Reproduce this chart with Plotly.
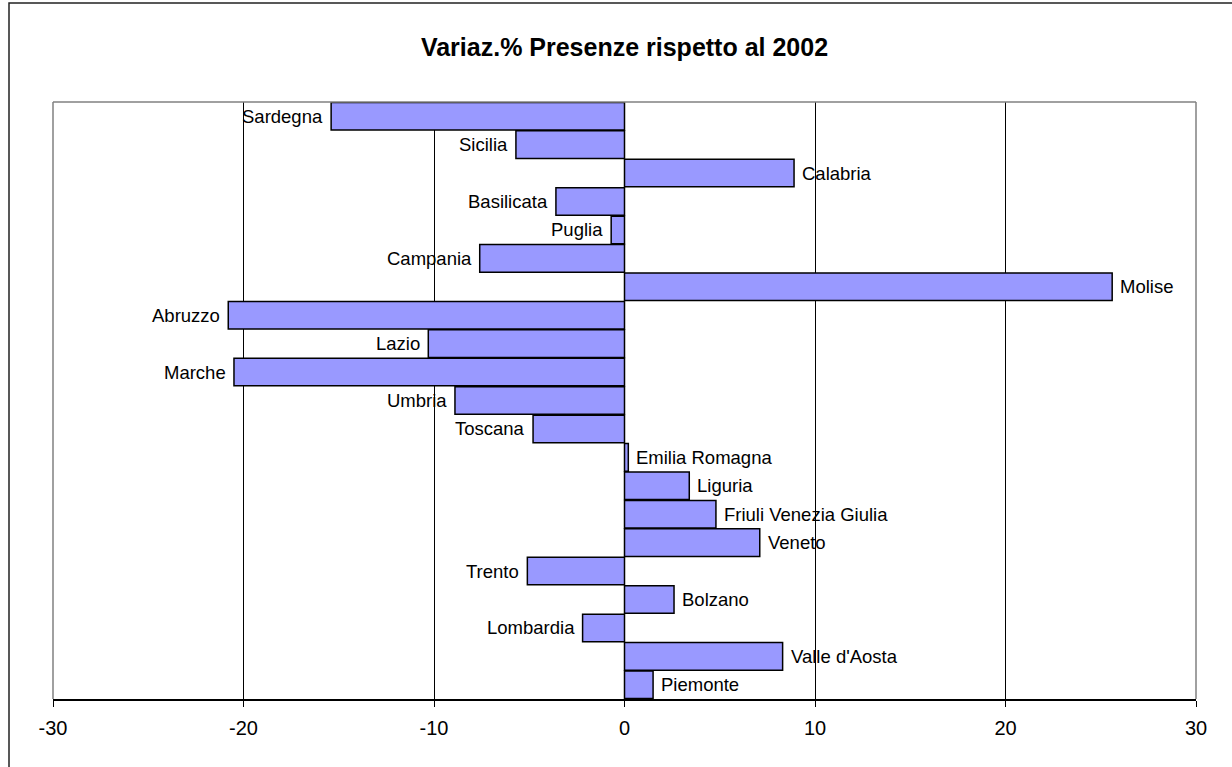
import plotly.graph_objects as go

# Categories listed bottom-to-top (as drawn on the y axis)
regions = ["Piemonte", "Valle d'Aosta", "Lombardia", "Bolzano", "Trento", "Veneto",
           "Friuli Venezia Giulia", "Liguria", "Emilia Romagna", "Toscana", "Umbria",
           "Marche", "Lazio", "Abruzzo", "Molise", "Campania", "Puglia", "Basilicata",
           "Calabria", "Sicilia", "Sardegna"]
variazione = [1.5, 8.3, -2.2, 2.6, -5.1, 7.1,
              4.8, 3.4, 0.2, -4.8, -8.9,
              -20.5, -10.3, -20.8, 25.6, -7.6, -0.7, -3.6,
              8.9, -5.7, -15.4]
x_ticks = [-30, -20, -10, 0, 10, 20, 30]
title_text = "<b>Variaz.% Presenze rispetto al 2002</b>"

FONT = "Arial, Liberation Sans, sans-serif"

fig = go.Figure()
fig.add_trace(go.Bar(
    x=variazione, y=regions, orientation="h",
    marker=dict(color="#9999FF", line=dict(color="black", width=1.5)),
    hoverinfo="x+y", showlegend=False,
))

annotations = []
for r, v in zip(regions, variazione):
    annotations.append(dict(
        x=v, y=r, xref="x", yref="y", text=r, showarrow=False,
        xanchor="left" if v >= 0 else "right", yanchor="middle",
        xshift=6 if v >= 0 else -6,
        font=dict(family=FONT, size=18.5, color="black"),
    ))

# plot-area border (gray) on left/top/right, outer chart border
shapes = [
    dict(type="line", xref="paper", yref="paper", x0=0, x1=0, y0=0, y1=1,
         line=dict(color="#808080", width=1.5), layer="above"),
    dict(type="line", xref="paper", yref="paper", x0=0, x1=1, y0=1, y1=1,
         line=dict(color="#808080", width=1.5), layer="above"),
    dict(type="line", xref="paper", yref="paper", x0=1, x1=1, y0=0, y1=1,
         line=dict(color="#808080", width=1.5), layer="above"),
    dict(type="rect", xref="paper", yref="paper",
         x0=(9 - 53) / 1143, x1=(1245 - 53) / 1143,
         y0=-(780 - 698.7) / 596.7, y1=1 + (102 - 3) / 596.7,
         line=dict(color="#222222", width=1.5), layer="above"),
]

fig.update_layout(
    width=1232, height=767,
    margin=dict(l=53, r=36, t=102, b=68, pad=0),
    paper_bgcolor="white", plot_bgcolor="white",
    bargap=0.03,
    title=dict(text=title_text, x=0.5, xref="paper", xanchor="center",
               y=1 - 47 / 767, yref="container", yanchor="middle",
               font=dict(family=FONT, size=25, color="black")),
    font=dict(family=FONT, color="black"),
    annotations=annotations,
    shapes=shapes,
    xaxis=dict(range=[-30, 30], tickvals=x_ticks, ticktext=[str(t) for t in x_ticks],
               showgrid=True, gridcolor="black", gridwidth=1,
               zeroline=True, zerolinecolor="black", zerolinewidth=1,
               showline=True, linecolor="black", linewidth=1.5,
               ticks="outside", ticklen=6, tickcolor="black", tickwidth=1,
               ticklabelstandoff=4,
               tickfont=dict(family=FONT, size=20, color="black")),
    yaxis=dict(categoryorder="array", categoryarray=regions,
               showticklabels=False, showgrid=False, zeroline=False, showline=False,
               ticks=""),
)

fig.write_html("out.html",
               config={"displayModeBar": False},
               post_script="document.body.style.margin='0';document.body.style.overflow='hidden';")
